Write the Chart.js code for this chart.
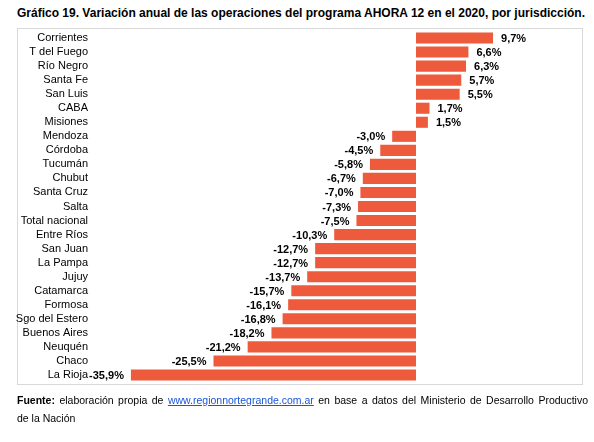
<!DOCTYPE html>
<html>
<head>
<meta charset="utf-8">
<script src="https://cdn.jsdelivr.net/npm/chart.js@4.4.1/dist/chart.umd.min.js"></script>
<style>
  html, body { margin: 0; padding: 0; background: #fff; }
  body { width: 594px; height: 442px; position: relative; overflow: hidden; font-family: "Liberation Sans", Arial, sans-serif; color: #000; }
  #title { position: absolute; left: 17px; top: 6px; font-weight: bold; font-size: 12px; white-space: nowrap; }
  #frame { position: absolute; left: 17px; top: 28px; width: 566px; height: 357px; border: 1px solid #d9d9d9; box-sizing: border-box; }
  #chart { position: absolute; left: 0; top: 0; }
  #foot { position: absolute; left: 17px; top: 391px; width: 571px; font-size: 10.5px; line-height: 18px; }
  #foot .l1 { text-align: justify; text-align-last: justify; white-space: nowrap; }
  #foot a { color: #1a55d6; text-decoration: underline; }
</style>
</head>
<body>
<div id="title">Gráfico 19. Variación anual de las operaciones del programa AHORA 12 en el 2020, por jurisdicción.</div>
<div id="frame"></div>
<canvas id="chart" width="594" height="442"></canvas>
<div id="foot"><div class="l1"><b>Fuente:</b> elaboración propia de <a>www.regionnortegrande.com.ar</a> en base a datos del Ministerio de Desarrollo Productivo</div><div>de la Nación</div></div>
<script>
const categories = ["Corrientes","T del Fuego","Río Negro","Santa Fe","San Luis","CABA","Misiones","Mendoza","Córdoba","Tucumán","Chubut","Santa Cruz","Salta","Total nacional","Entre Ríos","San Juan","La Pampa","Jujuy","Catamarca","Formosa","Sgo del Estero","Buenos Aires","Neuquén","Chaco","La Rioja"];
const variation = [9.7,6.6,6.3,5.7,5.5,1.7,1.5,-3.0,-4.5,-5.8,-6.7,-7.0,-7.3,-7.5,-10.3,-12.7,-12.7,-13.7,-15.7,-16.1,-16.8,-18.2,-21.2,-25.5,-35.9];

const FONT = "'Liberation Sans', Arial, sans-serif";

const valueLabels = {
  id: 'valueLabels',
  afterDatasetsDraw(chart) {
    const ctx = chart.ctx;
    const meta = chart.getDatasetMeta(0);
    ctx.save();
    ctx.font = "bold 11px " + FONT;
    ctx.fillStyle = '#000';
    ctx.textBaseline = 'middle';
    meta.data.forEach((bar, i) => {
      const v = chart.data.datasets[0].data[i];
      const txt = v.toFixed(1).replace('.', ',') + '%';
      if (v >= 0) { ctx.textAlign = 'left'; ctx.fillText(txt, bar.x + 8, bar.y + 1); }
      else { ctx.textAlign = 'right'; ctx.fillText(txt, bar.x - 7, bar.y + 1); }
    });
    ctx.restore();
  }
};

new Chart(document.getElementById('chart'), {
  type: 'bar',
  data: {
    labels: categories,
    datasets: [{
      data: variation,
      backgroundColor: '#ee5a3c',
      borderWidth: 0,
      barPercentage: 0.79,
      categoryPercentage: 1.0
    }]
  },
  options: {
    indexAxis: 'y',
    responsive: false,
    animation: false,
    devicePixelRatio: 1,
    layout: { padding: { top: 31, bottom: 60, left: 0, right: 11 } },
    plugins: { legend: { display: false }, tooltip: { enabled: false }, title: { display: false } },
    scales: {
      x: { display: false, min: -40.8, max: 21.03 },
      y: {
        afterFit(scale) { scale.width = 92; },
        grid: { display: false, drawTicks: false },
        border: { display: false },
        ticks: { padding: 4, autoSkip: false, color: '#000', font: { family: FONT, size: 11 } }
      }
    }
  },
  plugins: [valueLabels]
});
</script>
</body>
</html>
